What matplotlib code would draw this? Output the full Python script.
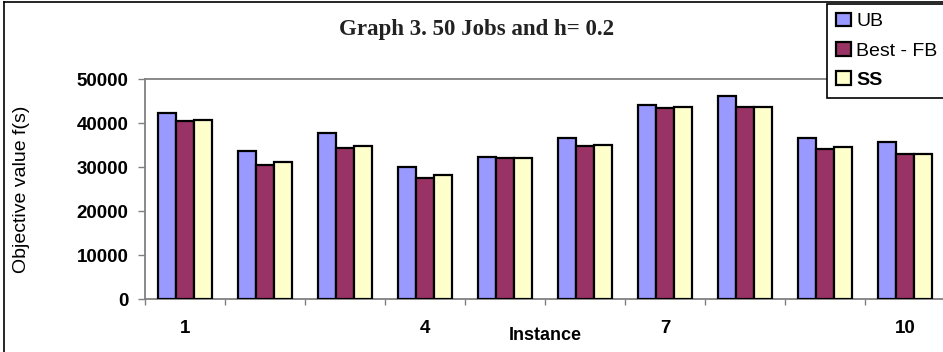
import numpy as np
import matplotlib
matplotlib.use('Agg')
import matplotlib.pyplot as plt
from matplotlib.lines import Line2D

# objective values per instance
instances = ['1', '2', '3', '4', '5', '6', '7', '8', '9', '10']
ub = [42200, 33700, 37700, 30100, 32300, 36700, 44200, 46100, 36500, 35600]
best_fb = [40500, 30500, 34400, 27600, 32000, 34800, 43300, 43700, 34000, 33000]
ss = [40700, 31200, 34800, 28200, 32000, 35000, 43600, 43700, 34500, 33000]
shown_labels = ['1', '4', '7', '10']

plt.rcParams['font.family'] = ['Liberation Sans', 'DejaVu Sans']

W, H = 943, 352
fig = plt.figure(figsize=(W / 100, H / 100), dpi=100)
ax = fig.add_axes([145 / W, (H - 299) / H, 800 / W, 220 / H])

x = np.arange(len(instances))
bw = 0.225
series = [(ub, '#9999FF', 'UB'), (best_fb, '#993366', 'Best - FB'), (ss, '#FFFFCC', 'SS')]
for i, (vals, col, lab) in enumerate(series):
    ax.bar(x + (i - 1) * bw, vals, bw, color=col, edgecolor='black', linewidth=1.6, label=lab, zorder=3)

ax.set_xlim(-0.5, len(instances) - 0.5)
ax.set_ylim(0, 50000)
ax.set_yticks(range(0, 50001, 10000))
ax.tick_params(axis='y', direction='out', length=5, width=1, color='#808080', pad=7, labelsize=13.5)
for t in ax.get_yticklabels():
    t.set_fontweight('bold')

# tick marks between categories, labels only on some instances
ax.set_xticks(np.arange(-0.5, len(instances), 1.0))
ax.set_xticklabels([])
ax.tick_params(axis='x', which='major', direction='out', length=4, width=1, color='#808080')
ax.set_xticks([instances.index(s) for s in shown_labels], minor=True)
ax.set_xticklabels(shown_labels, minor=True, fontweight='bold', fontsize=13.5)
ax.tick_params(axis='x', which='minor', length=0, pad=15)

for side in ['left', 'bottom', 'top']:
    ax.spines[side].set_color('#808080')
    ax.spines[side].set_linewidth(1.3)
ax.spines['right'].set_visible(False)

ax.set_ylabel('Objective value f(s)', fontsize=14)
ax.yaxis.set_label_coords((22 - 145) / 800, 0.5)
ax.set_xlabel('Instance', fontweight='bold', fontsize=13)
ax.xaxis.set_label_coords(0.5, -(335 - 299) / 220)
ax.xaxis.label.set_va('center')
ax.yaxis.label.set_va('center')

fig.text(477 / W, 1 - 30 / H, 'Graph 3. 50 Jobs and h= 0.2', ha='center', va='center',
         family=['Liberation Serif'], fontweight='bold', fontsize=16.5, color='#222222')

leg = fig.legend(loc='upper left', bbox_to_anchor=(827 / W, 1 - 4 / H), fontsize=14,
                 frameon=True, fancybox=False, edgecolor='black', framealpha=1,
                 handlelength=0.8, handleheight=0.7, handletextpad=0.25,
                 labelspacing=0.6, borderpad=0.45, borderaxespad=0)
leg.get_frame().set_linewidth(1.2)
leg.get_texts()[2].set_fontweight('bold')

# outer chart border
fig.add_artist(Line2D([4 / W, 4 / W], [0, 1 - 2 / H], color='black', lw=1.2))
fig.add_artist(Line2D([4 / W, 1], [1 - 2 / H, 1 - 2 / H], color='black', lw=1.2))

fig.savefig('out.png', dpi=100)
